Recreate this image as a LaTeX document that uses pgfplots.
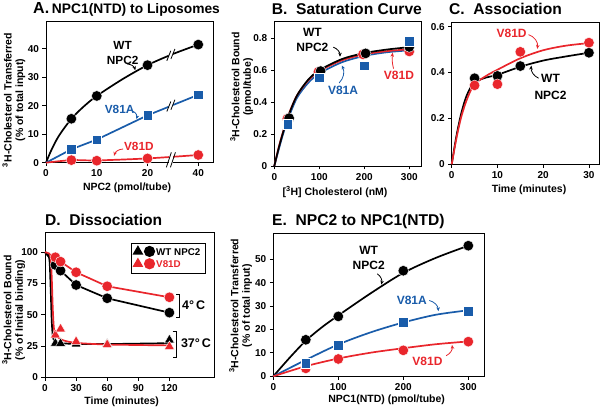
\documentclass[border=0pt]{standalone}
\usepackage{fontspec}
\setmainfont{Liberation Sans}
\usepackage{pgfplots}
\pgfplotsset{compat=1.18}
\usetikzlibrary{arrows.meta}
\definecolor{myblue}{RGB}{25,92,170}
\definecolor{myred}{RGB}{233,38,44}
\pgfplotsset{
  panel/.style={
    scale only axis, clip=false, anchor=south west,
    axis line style={line width=0.8pt, black},
    tick align=outside, tick pos=left,
    major tick length=3.5pt,
    every tick/.style={black, line width=0.8pt},
    tick label style={font=\fontsize{10}{10}\selectfont\bfseries},
    /pgf/number format/assume math mode=true,
    xlabel style={font=\fontsize{10.5}{11.5}\selectfont\bfseries, anchor=center},
    ylabel style={font=\fontsize{10.5}{11.5}\selectfont\bfseries, anchor=center, align=center},
    every axis plot/.append style={line width=1.7pt},
  },
  dotK/.style={only marks, mark=*, mark size=5.3pt, mark options={fill=black, draw=white, line width=0.4pt}},
  dotR/.style={only marks, mark=*, mark size=5.3pt, mark options={fill=myred, draw=white, line width=0.4pt}},
  sqB/.style={only marks, mark=square*, mark size=4.8pt, mark options={fill=myblue, draw=white, line width=0.4pt}},
  triK/.style={only marks, mark=triangle*, mark size=5.8pt, mark options={fill=black, draw=white, line width=0.4pt}},
  triR/.style={only marks, mark=triangle*, mark size=5.8pt, mark options={fill=myred, draw=white, line width=0.4pt}},
}
\tikzset{
  ann/.style={font=\fontsize{12}{14.5}\selectfont\bfseries, align=center, inner sep=0pt},
  arr/.style={-{Stealth[length=4pt,width=3.5pt]}, line width=0.8pt},
  brk/.style={line width=0.8pt},
}
\begin{document}
\begin{tikzpicture}
\path[use as bounding box] (0,0) rectangle (601pt,409pt);

% ---------------- A ----------------
\begin{axis}[panel, at={(46pt,246.3pt)}, width=167.5pt, height=141.2pt,
  xmin=0, xmax=33, ymin=0, ymax=49.5,
  xtick={0,10,20,30}, xticklabels={0,10,20,40}, ytick={0,10,20,30,40},
  xlabel={NPC2 (pmol/tube)},
  ylabel={\textsuperscript{3}H-Cholesterol Transferred\\(\% of total input)},
  xlabel style={at={(axis description cs:0.484,-0.179)}},
  ylabel style={at={(axis description cs:-0.191,0.444)}}]
\addplot[black, smooth] coordinates {(0,0)(1,4.2)(2.5,9.3)(5,15.4)(7.5,19.8)(10,23.4)(15,29.2)(20,34.2)(25,38.1)(30,41.4)};
\addplot[myblue] coordinates {(0,0)(5,4.7)(10,8.1)(20,16.6)(30,23.8)};
\addplot[myred, smooth] coordinates {(0,0)(5,0.9)(10,0.8)(20,1.5)(30,2.7)};
\addplot[dotK] coordinates {(5,15.4)(10,23.4)(20,34.2)(30,41.4)};
\addplot[sqB] coordinates {(5,4.7)(10,8.1)(20,16.6)(30,23.8)};
\addplot[dotR] coordinates {(5,0.9)(10,0.7)(20,1.5)(30,2.7)};
% breaks
\draw[white, line width=3pt] (axis cs:24.2,37.5) -- (axis cs:25.0,38.1);
\draw[brk] (axis cs:24.2,37.5) ++(-2pt,-5pt) -- ++(4pt,10pt);
\draw[brk] (axis cs:25.0,38.1) ++(-2pt,-5pt) -- ++(4pt,10pt);
\draw[white, line width=3pt] (axis cs:24.2,19.7) -- (axis cs:25.0,20.3);
\draw[brk] (axis cs:24.2,19.7) ++(-2pt,-5pt) -- ++(4pt,10pt);
\draw[brk] (axis cs:25.0,20.3) ++(-2pt,-5pt) -- ++(4pt,10pt);
\fill[white] (axis cs:24.2,-0.6) rectangle (axis cs:25.0,2.6);
\draw[brk] (axis cs:24.2,1) ++(-2.5pt,-7.5pt) -- ++(5pt,15pt);
\draw[brk] (axis cs:25.0,1) ++(-2.5pt,-7.5pt) -- ++(5pt,15pt);
% annotations
\node[ann, font=\fontsize{11.8}{15}\selectfont\bfseries] at (axis cs:15.1,38.6) {WT\\NPC2};
\draw[arr, black] (axis cs:16.0,34.6) to[bend left=35] (axis cs:17.6,32.4);
\node[ann, myblue, font=\fontsize{11.8}{14}\selectfont\bfseries] at (axis cs:14.5,18.5) {V81A};
\draw[arr, myblue] (axis cs:17.2,18.0) to[bend left=40] (axis cs:17.8,15.3);
\node[ann, myred, font=\fontsize{11.8}{14}\selectfont\bfseries] at (axis cs:18.3,5.6) {V81D};
\draw[arr, myred] (axis cs:15.2,4.8) to[bend right=35] (axis cs:13.4,2.4);
\end{axis}

% ---------------- B ----------------
\begin{axis}[panel, at={(274.3pt,243pt)}, width=147.4pt, height=145pt,
  xmin=0, xmax=327.6, ymin=0, ymax=0.909,
  xtick={0,100,200,300}, ytick={0,0.2,0.4,0.6,0.8},
  xlabel={[\textsuperscript{3}H] Cholesterol (nM)},
  ylabel={\textsuperscript{3}H-Cholesterol Bound\\(pmol/tube)},
  xlabel style={at={(axis description cs:0.412,-0.177)}},
  ylabel style={at={(axis description cs:-0.222,0.545)}}]
\addplot[myblue, smooth] coordinates {(0,0)(10,0.105)(20,0.205)(30,0.29)(50,0.425)(75,0.52)(100,0.58)(150,0.65)(200,0.69)(250,0.713)(300,0.725)};
\addplot[myred, smooth] coordinates {(0,0)(10,0.12)(20,0.22)(30,0.31)(50,0.44)(75,0.535)(100,0.595)(150,0.662)(200,0.70)(250,0.72)(300,0.732)};
\addplot[black, smooth] coordinates {(0,0)(10,0.115)(20,0.215)(30,0.305)(50,0.44)(75,0.54)(100,0.60)(150,0.67)(200,0.708)(250,0.73)(300,0.745)};
\addplot[dotR] coordinates {(29,0.297)(98,0.59)(197,0.70)(300,0.718)};
\addplot[dotK] coordinates {(33,0.30)(103,0.595)(203,0.706)(300,0.746)};
\addplot[sqB] coordinates {(30,0.263)(100,0.553)(200,0.629)(300,0.784)};
\node[ann] at (axis cs:84.7,0.79) {WT\\NPC2};
\draw[arr, black] (axis cs:131,0.745) to[bend left=35] (axis cs:146,0.685);
\node[ann, myblue] at (axis cs:152.7,0.476) {V81A};
\draw[arr, myblue] (axis cs:144,0.52) to[bend right=35] (axis cs:150,0.63);
\node[ann, myred] at (axis cs:277,0.57) {V81D};
\draw[arr, myred] (axis cs:265,0.61) to[bend left=10] (axis cs:263,0.71);
\end{axis}

% ---------------- C ----------------
\begin{axis}[panel, at={(451.7pt,244.7pt)}, width=147.3pt, height=142.3pt,
  xmin=0, xmax=32.2, ymin=0, ymax=0.62,
  xtick={0,10,20,30}, ytick={0,0.2,0.4,0.6},
  xlabel={Time (minutes)},
  xlabel style={at={(axis description cs:0.525,-0.18)}}]
\addplot[black, smooth] coordinates {(0,0)(1,0.12)(2,0.215)(3,0.285)(4,0.33)(5,0.358)(7.5,0.378)(10,0.39)(15,0.425)(20,0.452)(25,0.47)(30,0.486)};
\addplot[myred, smooth] coordinates {(0,0)(1,0.11)(2,0.2)(3,0.265)(4,0.315)(5,0.35)(7.5,0.385)(10,0.412)(15,0.462)(20,0.497)(25,0.517)(30,0.528)};
\addplot[dotK] coordinates {(5,0.375)(10,0.385)(15,0.428)(30,0.486)};
\addplot[dotR] coordinates {(5,0.344)(10,0.349)(15,0.49)(30,0.53)};
\node[ann, myred] at (axis cs:13.1,0.572) {V81D};
\draw[arr, myred] (axis cs:16.8,0.565) to[bend left=40] (axis cs:18.7,0.503);
\node[ann, font=\fontsize{12}{16.5}\selectfont\bfseries] at (axis cs:21.6,0.338) {WT\\NPC2};
\draw[arr, black] (axis cs:19.0,0.375) to[bend left=35] (axis cs:17.4,0.43);
\end{axis}

% ---------------- D ----------------
\begin{axis}[panel, at={(45pt,31.7pt)}, width=169pt, height=144.8pt,
  xmin=0, xmax=163, ymin=0, ymax=115.8,
  xtick={0,30,60,90,120}, ytick={0,25,50,75,100},
  xlabel={Time (minutes)},
  ylabel={\textsuperscript{3}H-Cholesterol Bound\\(\% of Initial binding)},
  xlabel style={at={(axis description cs:0.454,-0.168)}},
  ylabel style={at={(axis description cs:-0.185,0.465)}},
  legend style={at={(axis description cs:0.951,0.925)}, anchor=north east, draw=black, line width=0.8pt,
    font=\fontsize{9.8}{11.5}\selectfont\bfseries, inner xsep=3pt, inner ysep=2.5pt, row sep=0pt},
  legend cell align=left]
\addlegendimage{legend image code/.code={
  \draw[black, fill=black] plot[only marks, mark=triangle*, mark size=4.5pt] coordinates {(0pt,1pt)};
  \draw[black, fill=black] plot[only marks, mark=*, mark size=4.7pt] coordinates {(11.6pt,1pt)};}}
\addlegendentry{WT NPC2}
\addlegendimage{legend image code/.code={
  \draw[myred, fill=myred] plot[only marks, mark=triangle*, mark size=4.5pt] coordinates {(0pt,1pt)};
  \draw[myred, fill=myred] plot[only marks, mark=*, mark size=4.7pt] coordinates {(11.6pt,1pt)};}}
\addlegendentry[text=myred]{V81D}
\addplot[black] coordinates {(0,100)(10,89.8)(15,85.3)(30,73.8)(60,63.2)(120,51.7)};
\addplot[myred] coordinates {(0,100)(10,96)(15,92.5)(30,84)(60,72.8)(120,64)};
\addplot[black, smooth, tension=0.4] coordinates {(0,100)(3,98.5)(4.5,92)(5.5,70)(6.5,45)(7.5,33)(9,29)(12,27.5)(20,27)(30,26.7)(60,26.6)(120,27.3)};
\addplot[myred, smooth, tension=0.4] coordinates {(0,100)(4,99)(5.5,95)(6.5,80)(7.5,55)(8.5,40)(10,34)(15,30.5)(20,29)(30,27.5)(60,26.2)(120,25.5)};
\addplot[dotK] coordinates {(10,89.8)(15,85.3)(30,73.8)(60,63.2)(120,51.7)};
\addplot[dotR] coordinates {(10,96)(15,92.5)(30,84)(60,72.8)(120,64)};
\addplot[triK] coordinates {(10,27.2)(15,27)(30,26.6)(60,26.5)(120,29.8)};
\addplot[triR] coordinates {(10,33.8)(15,38.6)(30,28.5)(60,26)(120,24.5)};
\draw[line width=0.8pt] (axis cs:126.5,66.4) -- (axis cs:130,66.4) -- (axis cs:130,48) -- (axis cs:126.5,48);
\node[anchor=west, inner sep=0pt, font=\fontsize{12.5}{14}\selectfont\bfseries] at (axis cs:132,57.8) {4°\,C};
\draw[line width=0.8pt] (axis cs:123,36.5) -- (axis cs:127,36.5) -- (axis cs:127,16) -- (axis cs:123,16);
\node[anchor=west, inner sep=0pt, font=\fontsize{12.5}{14}\selectfont\bfseries] at (axis cs:131,27.2) {37°\,C};
\end{axis}

% ---------------- E ----------------
\begin{axis}[panel, at={(273.3pt,32.7pt)}, width=211pt, height=143pt,
  xmin=0, xmax=324.6, ymin=0, ymax=61.1,
  xtick={0,100,200,300}, ytick={0,10,20,30,40,50},
  xlabel={NPC1(NTD) (pmol/tube)},
  ylabel={\textsuperscript{3}H-Cholesterol Transferred\\(\% of total input)},
  xlabel style={at={(axis description cs:0.537,-0.166)}},
  ylabel style={at={(axis description cs:-0.155,0.494)}}]
\addplot[black, smooth] coordinates {(0,0)(25,7.9)(50,15.2)(75,21)(100,26)(150,35.5)(200,44.2)(250,50.6)(300,55.8)};
\addplot[myblue, smooth] coordinates {(0,0)(50,7)(100,13.6)(150,18.8)(200,23)(250,26.3)(300,28.2)};
\addplot[myred, smooth] coordinates {(0,0)(50,4.3)(100,7.6)(150,10.1)(200,12)(250,13.7)(300,14.9)};
\addplot[dotR] coordinates {(50,3.4)(100,7.4)(200,11.1)(300,14.8)};
\addplot[sqB] coordinates {(50,5.7)(100,13.4)(200,23.1)(300,27.9)};
\addplot[dotK] coordinates {(50,15.6)(100,25.6)(200,45.1)(300,55.8)};
\node[ann] at (axis cs:146.8,50.6) {WT\\NPC2};
\draw[arr, black] (axis cs:160,43.8) to[bend left=35] (axis cs:166,39.2);
\node[ann, myblue] at (axis cs:213,32.6) {V81A};
\draw[arr, myblue] (axis cs:240,32.4) to[bend left=35] (axis cs:254,27.8);
\node[ann, myred] at (axis cs:237.2,6.5) {V81D};
\draw[arr, myred] (axis cs:266,8.8) to[bend right=35] (axis cs:275,13.4);
\end{axis}

% ---------------- titles ----------------
\node[anchor=west, inner sep=0pt] at (33pt,400pt) {\bfseries{\fontsize{16}{16}\selectfont A.} \fontsize{13.8}{14}\selectfont NPC1(NTD) to Liposomes};
\node[anchor=west, inner sep=0pt] at (271.7pt,400pt) {\fontsize{15.6}{16}\selectfont\bfseries B.\ \ Saturation Curve};
\node[anchor=west, inner sep=0pt] at (449pt,400pt) {\fontsize{15.6}{16}\selectfont\bfseries C.\ \ Association};
\node[anchor=west, inner sep=0pt] at (45pt,189pt) {\fontsize{15.6}{16}\selectfont\bfseries D.\ \ Dissociation};
\node[anchor=west, inner sep=0pt] at (272pt,188pt) {\fontsize{15.6}{16}\selectfont\bfseries E.\ \ NPC2 to NPC1(NTD)};
\end{tikzpicture}
\end{document}
